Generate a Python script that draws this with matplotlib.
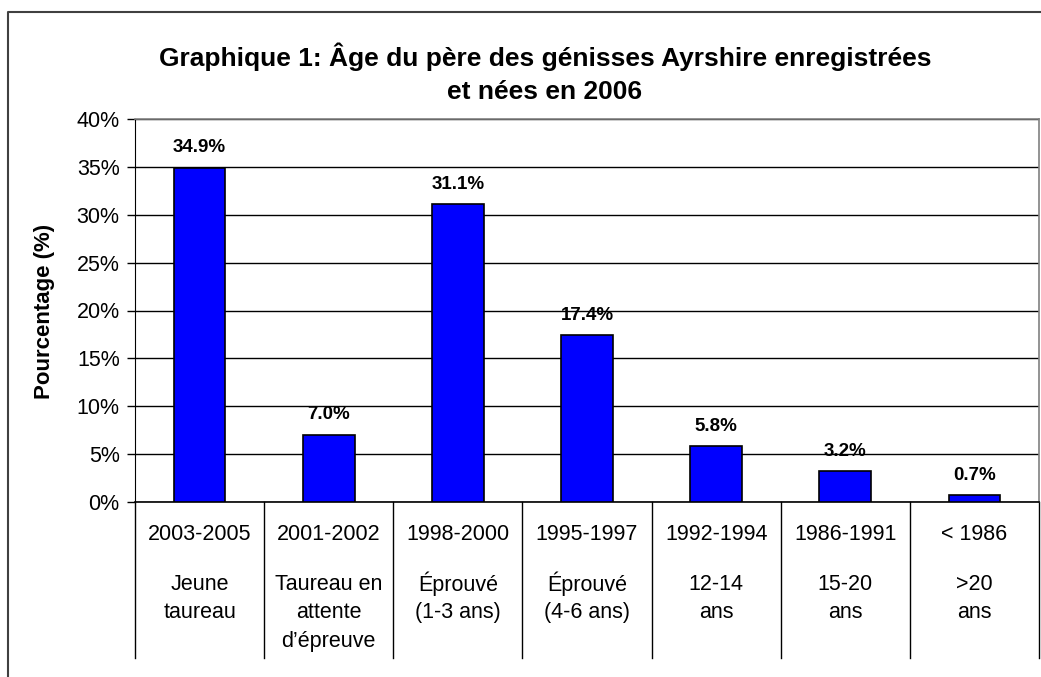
import matplotlib
matplotlib.use("Agg")
import matplotlib.pyplot as plt
from matplotlib.lines import Line2D
from matplotlib.ticker import FuncFormatter

plt.rcParams['font.family'] = ['Liberation Sans', 'DejaVu Sans']

years = ["2003-2005", "2001-2002", "1998-2000", "1995-1997", "1992-1994", "1986-1991", "< 1986"]
descriptions = ["Jeune\ntaureau", "Taureau en\nattente\nd\u2019\u00e9preuve", "\u00c9prouv\u00e9\n(1-3 ans)",
                "\u00c9prouv\u00e9\n(4-6 ans)", "12-14\nans", "15-20\nans", ">20\nans"]
values = [34.9, 7.0, 31.1, 17.4, 5.8, 3.2, 0.7]
yticks = [0, 5, 10, 15, 20, 25, 30, 35, 40]
title = "Graphique 1: \u00c2ge du p\u00e8re des g\u00e9nisses Ayrshire enregistr\u00e9es\net n\u00e9es en 2006"
ylabel = "Pourcentage (%)"

W, H = 1041, 677
fig = plt.figure(figsize=(W / 100, H / 100), dpi=100)
fig.patch.set_facecolor('white')

x0, x1, ytop, ybot = 135, 1039, 119, 502
ax = fig.add_axes([x0 / W, 1 - ybot / H, (x1 - x0) / W, (ybot - ytop) / H])

n = len(values)
xs = list(range(n))
ax.bar(xs, values, width=0.4, color='#0000FF', edgecolor='black', linewidth=1.2, zorder=3)
ax.set_xlim(-0.5, n - 0.5)
ax.set_ylim(0, 40)
ax.set_yticks(yticks)
ax.yaxis.set_major_formatter(FuncFormatter(lambda v, p: f"{v:.0f}%"))
ax.tick_params(axis='y', labelsize=15.5, length=6, width=1, direction='out', pad=5)
ax.set_xticks([])
ax.grid(axis='y', color='black', linewidth=1, zorder=0)
ax.set_axisbelow(True)
for side in ['top', 'right']:
    ax.spines[side].set_color('#808080')
    ax.spines[side].set_linewidth(1.2)
ax.spines['left'].set_color('black')
ax.spines['bottom'].set_color('black')
ax.spines['bottom'].set_linewidth(1.2)

for x, v in zip(xs, values):
    ax.annotate(f"{v:.1f}%", (x, v), xytext=(0, 14.5), textcoords='offset points',
                ha='center', va='center', fontsize=13.5, fontweight='bold', zorder=4)

fig.text(45 / W, 1 - 311 / H, ylabel, rotation=90, ha='center', va='center',
         fontsize=16, fontweight='bold')

# category table below the axis
ph = ybot - ytop
def yf(py):
    return (ybot - py) / ph

tr = ax.get_xaxis_transform()
for b in [i - 0.5 for i in range(n + 1)]:
    ax.add_line(Line2D([b, b], [0, yf(658)], transform=tr, color='black', linewidth=1, clip_on=False))

for x, yr, desc in zip(xs, years, descriptions):
    ax.text(x, yf(535), yr, transform=tr, ha='center', va='center', fontsize=15.5)
    for k, line in enumerate(desc.split('\n')):
        ax.text(x, yf(584 + k * 28.5), line, transform=tr, ha='center', va='center', fontsize=15.5)

fig.text(545 / W, 1 - 73 / H, title, ha='center', va='center', fontsize=19,
         fontweight='bold', linespacing=1.45)

# outer border (chart frame, cropped at right/bottom)
fig.add_artist(Line2D([8 / W, 8 / W, 1.0], [0, 1 - 12 / H, 1 - 12 / H], transform=fig.transFigure,
                      color='#404040', linewidth=1.5))

fig.savefig('out.png', dpi=100, facecolor='white')
